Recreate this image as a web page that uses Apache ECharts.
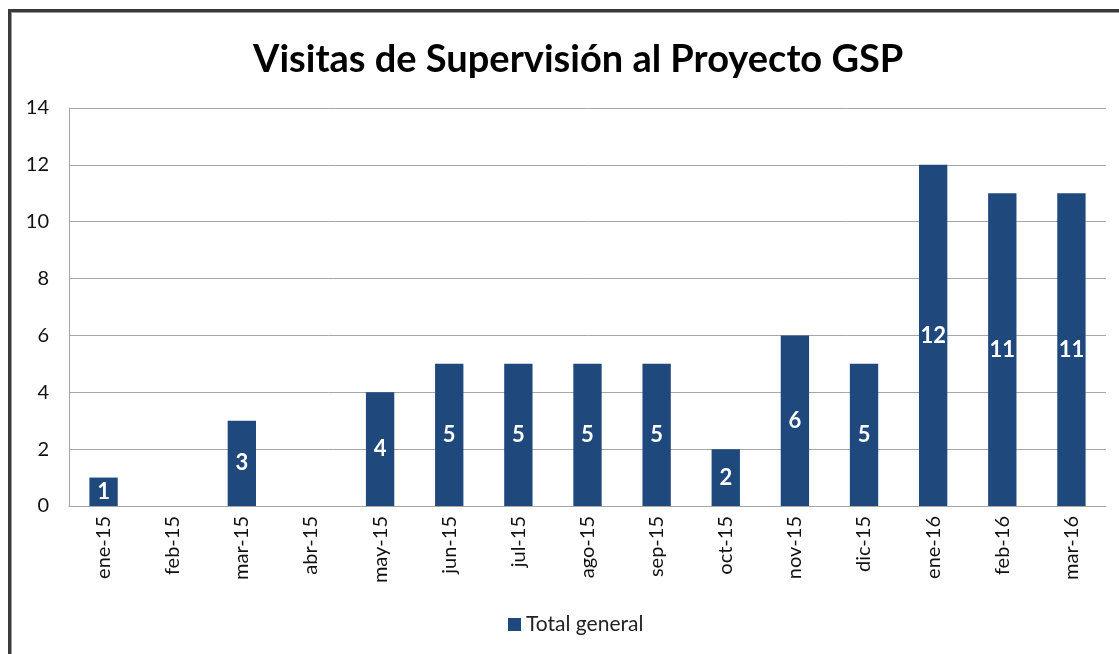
<!DOCTYPE html>
<html>
<head>
<meta charset="utf-8">
<script src="https://cdn.jsdelivr.net/npm/echarts@6/dist/echarts.min.js"></script>
<style>
  html, body { margin: 0; padding: 0; background: #fff; overflow: hidden; }
  #frame {
    position: absolute; left: 8px; top: 9px; width: 1200px; height: 700px;
    border: 3px solid #3a3a3a; box-shadow: inset 1px 1px 0 #9a9a9a;
  }
  #chart { position: absolute; left: 0; top: 0; width: 1119px; height: 654px; }
</style>
</head>
<body>
<div id="frame"></div>
<div id="chart"></div>
<script>
// Months shown on the category axis
const months = [
  'ene-15', 'feb-15', 'mar-15', 'abr-15', 'may-15', 'jun-15', 'jul-15',
  'ago-15', 'sep-15', 'oct-15', 'nov-15', 'dic-15', 'ene-16', 'feb-16', 'mar-16'
];
// Visits per month (empty months have no bar)
const visits = [1, null, 3, null, 4, 5, 5, 5, 5, 2, 6, 5, 12, 11, 11];
const seriesName = 'Total general';
const titleText = 'Visitas de Supervisión al Proyecto GSP';

const BAR_COLOR = '#1f497d';
const AXIS_GRAY = '#a6a6a6';
const FONT = 'Lato, "Open Sans", sans-serif';

const chart = echarts.init(document.getElementById('chart'));

chart.setOption({
  animation: false,
  title: {
    text: titleText,
    left: 248,
    top: 36,
    textStyle: { fontFamily: FONT, fontWeight: 'bold', fontSize: 38, color: '#000' }
  },
  legend: {
    bottom: 14,
    left: 503,
    itemWidth: 13,
    itemHeight: 13,
    itemGap: 6,
    icon: 'rect',
    textStyle: { fontFamily: FONT, fontSize: 21, color: '#222' },
    data: [seriesName]
  },
  grid: { left: 69, right: 13, top: 108, bottom: 148 },
  xAxis: {
    type: 'category',
    data: months,
    axisLine: { lineStyle: { color: AXIS_GRAY, width: 1 } },
    axisTick: { show: false },
    axisLabel: {
      rotate: 90,
      margin: 10,
      fontFamily: FONT,
      fontSize: 20,
      color: '#111'
    }
  },
  yAxis: {
    type: 'value',
    min: 0,
    max: 14,
    interval: 2,
    axisLine: { show: true, lineStyle: { color: AXIS_GRAY, width: 1 } },
    axisTick: { show: false },
    splitLine: { lineStyle: { color: AXIS_GRAY, width: 1 } },
    axisLabel: {
      margin: 20,
      fontFamily: FONT,
      fontSize: 20,
      color: '#111'
    }
  },
  series: [
    {
      name: seriesName,
      type: 'bar',
      data: visits,
      barWidth: '41%',
      itemStyle: { color: BAR_COLOR },
      label: {
        show: true,
        position: 'inside',
        fontFamily: FONT,
        fontWeight: 'bold',
        fontSize: 22,
        color: '#fff'
      }
    }
  ]
});
</script>
</body>
</html>
